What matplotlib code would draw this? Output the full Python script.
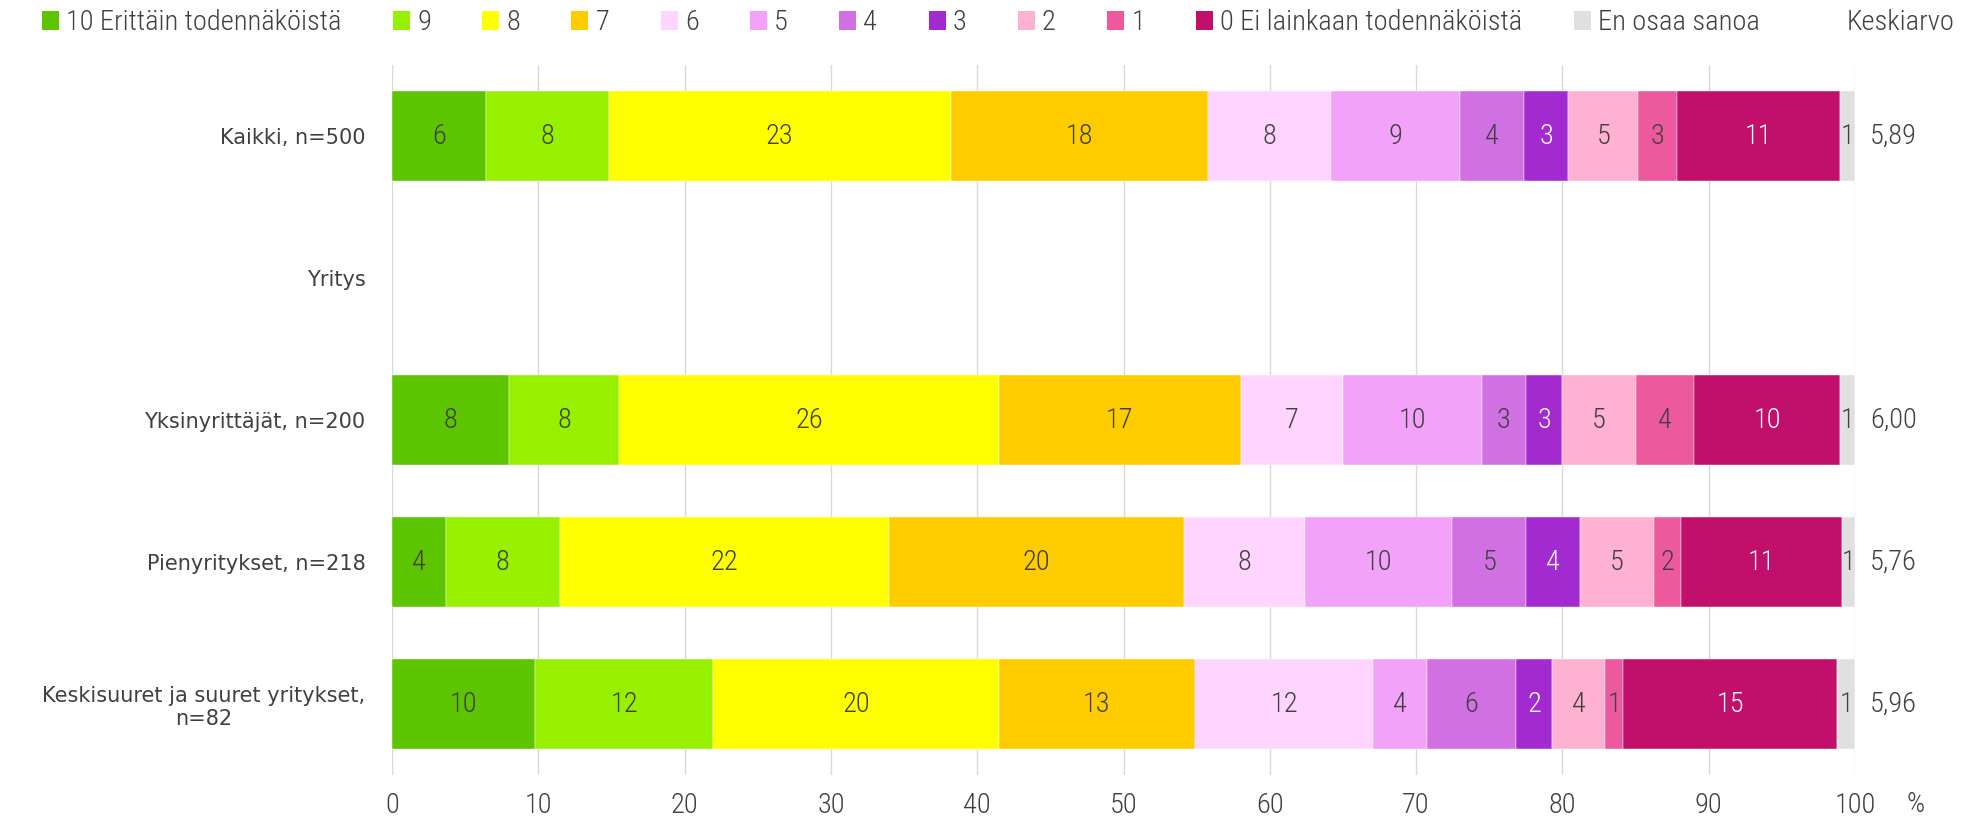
import numpy as np
import matplotlib
matplotlib.use("Agg")
from matplotlib import pyplot as plt
from matplotlib.patches import Patch

# legend levels and colours (10 ... 0, EOS)
levels = ["10 Erittäin todennäköistä", "9", "8", "7", "6", "5", "4", "3", "2", "1",
          "0 Ei lainkaan todennäköistä", "En osaa sanoa"]
colors = ["#5cc400", "#96f000", "#ffff00", "#ffcc00", "#ffd5ff", "#f2a2f9",
          "#d070e2", "#a32ace", "#feb1d0", "#ec599d", "#c1106c", "#e0e0e0"]

categories = ["Kaikki, n=500", "Yritys", "Yksinyrittäjät, n=200",
              "Pienyritykset, n=218", "Keskisuuret ja suuret yritykset,\nn=82"]

kaikki = [6.4, 8.4, 23.4, 17.6, 8.4, 8.8, 4.4, 3.0, 4.8, 2.6, 11.2, 1.0]
yksinyrittajat = [8.0, 7.5, 26.0, 16.5, 7.0, 9.5, 3.0, 2.5, 5.0, 4.0, 10.0, 1.0]
pienyritykset = [3.67, 7.80, 22.48, 20.18, 8.26, 10.09, 5.05, 3.67, 5.05, 1.83, 11.01, 0.92]
keskisuuret = [9.76, 12.20, 19.51, 13.41, 12.20, 3.66, 6.10, 2.44, 3.66, 1.22, 14.63, 1.22]
rows = [kaikki, None, yksinyrittajat, pienyritykset, keskisuuret]

means = ["5,89", "", "6,00", "5,76", "5,96"]

numfont = ["Roboto Condensed", "Roboto", "DejaVu Sans"]
txt = "#404040"
nfs = 20.5

fig = plt.figure(figsize=(19.79, 8.23), dpi=100)
ax = fig.add_axes([392/1979, 48/823, 1463/1979, 710/823])

for i, vals in enumerate(rows):
    if vals is None:
        continue
    left = 0
    for j, v in enumerate(vals):
        ax.barh(i, v, left=left, height=0.64, color=colors[j], edgecolor="white", linewidth=0.3)
        c = "white" if j in (7, 10) else txt
        ax.text(left + v/2, i, str(int(v + 0.5)), ha="center", va="center",
                fontsize=nfs, color=c, family=numfont, fontweight="light")
        left += v

ax.set_xlim(0, 100)
ax.set_ylim(4.5, -0.5)
ax.set_xticks(np.arange(0, 101, 10))
ax.set_yticks(range(len(categories)))
ax.set_yticklabels(categories, fontsize=15, color=txt, family="DejaVu Sans")
for lab in ax.get_yticklabels():
    lab.set_multialignment("center")
for lab in ax.get_xticklabels():
    lab.set_family(numfont)
    lab.set_fontweight("light")
ax.tick_params(axis="y", length=0, pad=19)
ax.tick_params(axis="x", length=0, pad=12, labelsize=nfs, labelcolor=txt)
for s in ax.spines.values():
    s.set_visible(False)
ax.set_axisbelow(True)
ax.xaxis.grid(True, color="#d9d9d9", linewidth=1)

# mean values on the right
for i, m in enumerate(means):
    ax.text(1.0103, i, m, transform=ax.get_yaxis_transform(), ha="left", va="center",
            fontsize=nfs, color=txt, family=numfont, fontweight="light", clip_on=False)

fig.text(1907/1979, 1 - 804/823, "%", ha="left", va="center", fontsize=nfs, color=txt,
         family=numfont, fontweight="light")
fig.text(1847/1979, 1 - 22/823, "Keskiarvo", ha="left", va="center", fontsize=nfs, color=txt,
         family=numfont, fontweight="light")

handles = [Patch(facecolor=c, edgecolor="none", label=l) for c, l in zip(colors, levels)]
fig.legend(handles=handles, loc="center left", bbox_to_anchor=(42/1979, 1 - 23/823),
           ncol=12, frameon=False, borderaxespad=0, borderpad=0,
           handlelength=0.6, handleheight=0.6, handletextpad=0.25, columnspacing=1.8,
           prop={"family": numfont, "size": nfs, "weight": "light"}, labelcolor=txt)

fig.savefig("out.png", dpi=100)
